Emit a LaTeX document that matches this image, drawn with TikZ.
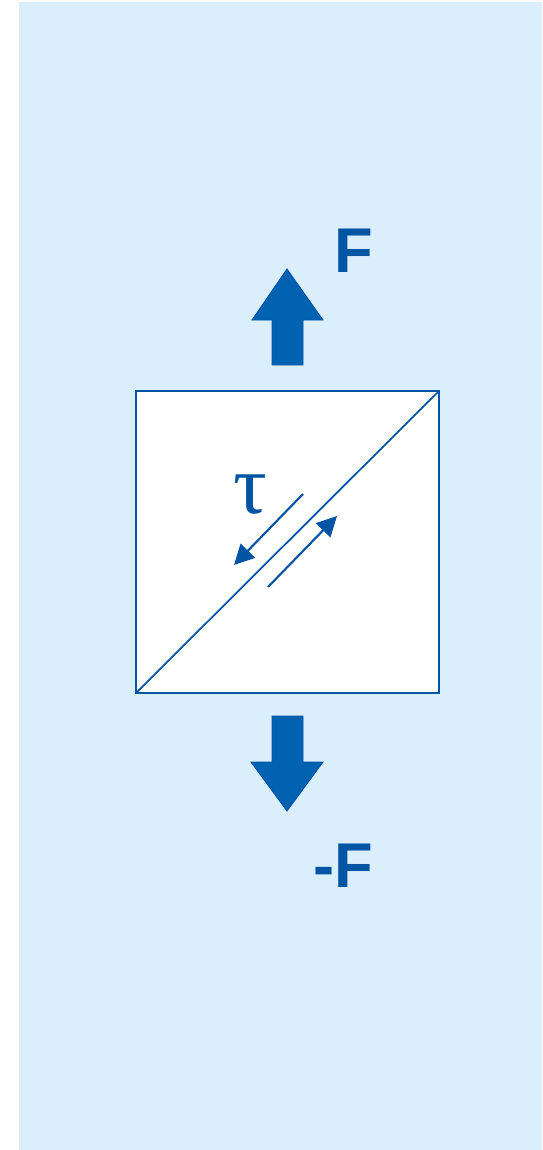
\documentclass[tikz,border=0pt]{standalone}
\usepackage{fontspec}
\setmainfont{Liberation Sans}
\newfontfamily\greekfont{Liberation Serif}
\usetikzlibrary{arrows.meta}
\definecolor{bgblue}{RGB}{218,238,252}
\definecolor{darkblue}{RGB}{0,84,164}
\definecolor{arrowblue}{RGB}{0,98,177}
\begin{document}
\begin{tikzpicture}[x=0.02cm, y=-0.02cm, >={Triangle[length=0.4cm,width=0.4cm]},
	lbl/.style={text=darkblue, font=\bfseries\fontsize{36}{40}\selectfont, anchor=base, inner sep=0pt},
	force/.style={fill=arrowblue, draw=darkblue, line width=0.5pt, line join=miter}]
			\useasboundingbox (0,0) rectangle (542,1150);
			\fill[bgblue] (19,2) rectangle (542,1150);
			% element
			\draw[darkblue, fill=white, line width=1.2pt] (136,391) rectangle (439,693);
			\draw[darkblue, line width=1pt] (136,693) -- (439,391);
			% shear
			\draw[->, darkblue, line width=1.2pt] (303,494) -- (234,565);
			\draw[->, darkblue, line width=1.2pt] (268,587) -- (337,516);
			\node[text=darkblue, anchor=base, inner sep=0pt, font=\greekfont\fontsize{48}{50}\selectfont] (tau) at (250,513) {τ};
			% forces
			\draw[force] (272,365) -- (272,320) -- (252,320) -- (287,269) -- (323,320) -- (303,320) -- (303,365) -- cycle;
			\draw[force] (272,716) -- (272,762) -- (251,762) -- (287,811) -- (323,762) -- (303,762) -- (303,716) -- cycle;
			\node[lbl] (f) at (354,272) {F};
			\node[lbl] (mf) at (343,887) {-F};
	\end{tikzpicture}
\end{document}
